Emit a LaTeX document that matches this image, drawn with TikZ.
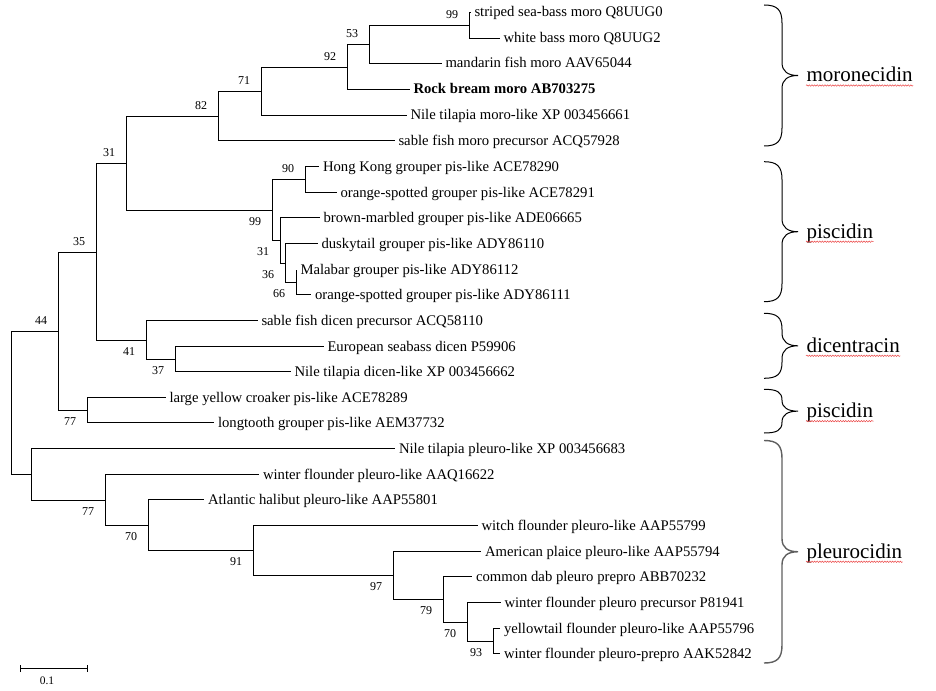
\documentclass[tikz,border=0pt]{standalone}
\usepackage{fontspec}
\setmainfont{Liberation Serif}
\usepackage{tikz}
\usetikzlibrary{arrows.meta,decorations.pathmorphing}
\definecolor{braceGray}{RGB}{95,95,95}
\definecolor{spellRed}{RGB}{235,70,70}
\newcommand{\leaffont}{\fontsize{14.7}{17}\selectfont}
\newcommand{\bsfont}{\fontsize{12}{14}\selectfont}
\newcommand{\grpfont}{\fontsize{21}{24}\selectfont}
% curly brace to the right of a clade, with its name
\newcommand{\grpbrace}[5]{%
  \pgfmathsetmacro{\brMid}{(#2+#3)/2}%
  \pgfmathsetmacro{\brR}{min(18,(#3-#2)/4)}%
  \pgfmathsetmacro{\brS}{min(13,(#3-#2)/4)}%
  \draw[#5] (764,#2) .. controls (777,#2) and (782,{#2+0.25*\brR}) .. (782,{#2+\brR})
    -- (782,{\brMid-\brS}) .. controls (782,{\brMid-0.3*\brS}) and (788,\brMid) .. (798,\brMid)
    .. controls (788,\brMid) and (782,{\brMid+0.3*\brS}) .. (782,{\brMid+\brS})
    -- (782,{#3-\brR}) .. controls (782,{#3-0.25*\brR}) and (777,#3) .. (764,#3);
  \node[grp] (#1) at (806,{\brMid+6.5}) {#4};
  \draw[spellRed,line width=0.5pt,decorate,decoration={snake,amplitude=0.7pt,segment length=2.6pt}]
    ([yshift=-3.5pt]#1.base west) -- ([yshift=-3.5pt]#1.base east);
}

\begin{document}
\begin{tikzpicture}[x=1pt,y=-1pt,line width=1pt,
  leaf/.style={anchor=west,inner xsep=3.5pt,inner ysep=0pt,text height=11pt,text depth=2pt,font=\leaffont},
  bs/.style={font=\bsfont,inner sep=0pt},
  bsup/.style={bs,xshift=-17.5pt,yshift=10.5pt},
  bsdn/.style={bs,xshift=-17.5pt,yshift=-11pt},
  grp/.style={anchor=base west,inner sep=0pt,font=\grpfont}]
  \useasboundingbox (0,0) rectangle (936,690);

  % leaves
  \node[leaf] (l01) at (470.5,12.5) {striped sea-bass moro Q8UUG0};
  \node[leaf] (l02) at (499.5,38.5) {white bass moro Q8UUG2};
  \node[leaf] (l03) at (441.5,63.5) {mandarin fish moro AAV65044};
  \node[leaf,font=\leaffont\bfseries] (l04) at (409.5,89.5) {Rock bream moro AB703275};
  \node[leaf] (l05) at (406.5,115.5) {Nile tilapia moro-like XP 003456661};
  \node[leaf] (l06) at (394.5,140.5) {sable fish moro precursor ACQ57928};
  \node[leaf] (l07) at (319,166.5) {Hong Kong grouper pis-like ACE78290};
  \node[leaf] (l08) at (336.5,192.5) {orange-spotted grouper pis-like ACE78291};
  \node[leaf] (l09) at (319.5,217.5) {brown-marbled grouper pis-like ADE06665};
  \node[leaf] (l10) at (317.5,243.5) {duskytail grouper pis-like ADY86110};
  \node[leaf] (l11) at (296.5,269.5) {Malabar grouper pis-like ADY86112};
  \node[leaf] (l12) at (311,294.5) {orange-spotted grouper pis-like ADY86111};
  \node[leaf] (l13) at (257.5,320.5) {sable fish dicen precursor ACQ58110};
  \node[leaf] (l14) at (323.5,346.5) {European seabass dicen P59906};
  \node[leaf] (l15) at (290.5,371.5) {Nile tilapia dicen-like XP 003456662};
  \node[leaf] (l16) at (165.5,397.5) {large yellow croaker pis-like ACE78289};
  \node[leaf] (l17) at (214,422.5) {longtooth grouper pis-like AEM37732};
  \node[leaf] (l18) at (395,448.5) {Nile tilapia pleuro-like XP 003456683};
  \node[leaf] (l19) at (259,474.5) {winter flounder pleuro-like AAQ16622};
  \node[leaf] (l20) at (204,499.5) {Atlantic halibut pleuro-like AAP55801};
  \node[leaf] (l21) at (477.5,525.5) {witch flounder pleuro-like AAP55799};
  \node[leaf] (l22) at (481,551.5) {American plaice pleuro-like AAP55794};
  \node[leaf] (l23) at (472,576.5) {common dab pleuro prepro ABB70232};
  \node[leaf] (l24) at (500.5,602.5) {winter flounder pleuro precursor P81941};
  \node[leaf] (l25) at (500,628.5) {yellowtail flounder pleuro-like AAP55796};
  \node[leaf] (l26) at (500,653.5) {winter flounder pleuro-prepro AAK52842};

  % moronecidin clade
  \coordinate (n99m) at (469.5,25.5);
  \coordinate (n53) at (369.5,44.5);
  \coordinate (n92) at (347.5,67.5);
  \coordinate (n71) at (261.5,91.5);
  \coordinate (n82) at (218.5,116.5);
  \draw (n99m) |- (l01.west);
  \draw (n99m) |- (l02.west);
  \draw (n53) |- (n99m);
  \draw (n53) |- (l03.west);
  \draw (n92) |- (n53);
  \draw (n92) |- (l04.west);
  \draw (n71) |- (n92);
  \draw (n71) |- (l05.west);
  \draw (n82) |- (n71);
  \draw (n82) |- (l06.west);

  % piscidin clade
  \coordinate (n90) at (305.5,179.5);
  \coordinate (n66) at (296.5,282.5);
  \coordinate (n36) at (285.5,263.5);
  \coordinate (n31p) at (280.5,240.5);
  \coordinate (n99p) at (272.5,210.5);
  \coordinate (n31t) at (126.5,163.5);
  \draw (n90) |- (l07.west);
  \draw (n90) |- (l08.west);
  \draw (n66) |- (l11.west);
  \draw (n66) |- (l12.west);
  \draw (n36) |- (l10.west);
  \draw (n36) |- (n66);
  \draw (n31p) |- (l09.west);
  \draw (n31p) |- (n36);
  \draw (n99p) |- (n90);
  \draw (n99p) |- (n31p);
  \draw (n31t) |- (n82);
  \draw (n31t) |- (n99p);

  % dicentracin clade
  \coordinate (n37) at (175.5,359.5);
  \coordinate (n41) at (146.5,340.5);
  \coordinate (n35) at (96.5,252.5);
  \draw (n37) |- (l14.west);
  \draw (n37) |- (l15.west);
  \draw (n41) |- (l13.west);
  \draw (n41) |- (n37);
  \draw (n35) |- (n31t);
  \draw (n35) |- (n41);

  % second piscidin pair
  \coordinate (n77c) at (87.5,410.5);
  \coordinate (n44) at (58.5,331.5);
  \draw (n77c) |- (l16.west);
  \draw (n77c) |- (l17.west);
  \draw (n44) |- (n35);
  \draw (n44) |- (n77c);

  % pleurocidin clade
  \coordinate (n93) at (493.5,641.5);
  \coordinate (n70b) at (467.5,622.5);
  \coordinate (n79) at (443.5,599.5);
  \coordinate (n97) at (393.5,575.5);
  \coordinate (n91) at (253.5,550.5);
  \coordinate (n70a) at (148.5,525.5);
  \coordinate (n77p) at (105.5,500.5);
  \coordinate (npl) at (31.5,474.5);
  \coordinate (root) at (11.5,403);
  \draw (n93) |- (l25.west);
  \draw (n93) |- (l26.west);
  \draw (n70b) |- (l24.west);
  \draw (n70b) |- (n93);
  \draw (n79) |- (l23.west);
  \draw (n79) |- (n70b);
  \draw (n97) |- (l22.west);
  \draw (n97) |- (n79);
  \draw (n91) |- (l21.west);
  \draw (n91) |- (n97);
  \draw (n70a) |- (l20.west);
  \draw (n70a) |- (n91);
  \draw (n77p) |- (l19.west);
  \draw (n77p) |- (n70a);
  \draw (npl) |- (l18.west);
  \draw (npl) |- (n77p);
  \draw (root) |- (n44);
  \draw (root) |- (npl);

  % bootstrap values
  \node[bsup] (b99m) at (n99m) {99};
  \node[bsup] (b53) at (n53) {53};
  \node[bsup] (b92) at (n92) {92};
  \node[bsup] (b71) at (n71) {71};
  \node[bsup] (b82) at (n82) {82};
  \node[bsup] (b31t) at (n31t) {31};
  \node[bsup] (b90) at (n90) {90};
  \node[bsup] (b35) at (n35) {35};
  \node[bsup] (b44) at (n44) {44};
  \node[bsdn] (b99p) at (n99p) {99};
  \node[bsdn] (b31p) at (n31p) {31};
  \node[bsdn] (b36) at (n36) {36};
  \node[bsdn] (b66) at (n66) {66};
  \node[bsdn] (b41) at (n41) {41};
  \node[bsdn] (b37) at (n37) {37};
  \node[bsdn] (b77c) at (n77c) {77};
  \node[bsdn] (b77p) at (n77p) {77};
  \node[bsdn] (b70a) at (n70a) {70};
  \node[bsdn] (b91) at (n91) {91};
  \node[bsdn] (b97) at (n97) {97};
  \node[bsdn] (b79) at (n79) {79};
  \node[bsdn] (b70b) at (n70b) {70};
  \node[bsdn] (b93) at (n93) {93};

  % scale bar
  \coordinate (sbL) at (19.5,668.5);
  \coordinate (sbR) at (87.5,668.5);
  \draw[line width=1pt,{Bar[width=7pt]}-{Bar[width=7pt]}] (sbL) -- (sbR);
  \node[font=\fontsize{11.5}{13}\selectfont,inner sep=0pt] (sbLbl) at (47,680.5) {0.1};

  % clade braces
  \grpbrace{gMoro}{5}{146}{moronecidin}{line width=1pt}
  \grpbrace{gPis}{161.7}{301.7}{piscidin}{line width=1pt}
  \grpbrace{gDic}{313.3}{378.3}{dicentracin}{line width=1pt}
  \grpbrace{gPis2}{389.3}{433}{piscidin}{line width=1pt}
  \grpbrace{gPleu}{440.5}{663}{pleurocidin}{braceGray,line width=1.4pt}
\end{tikzpicture}
\end{document}
